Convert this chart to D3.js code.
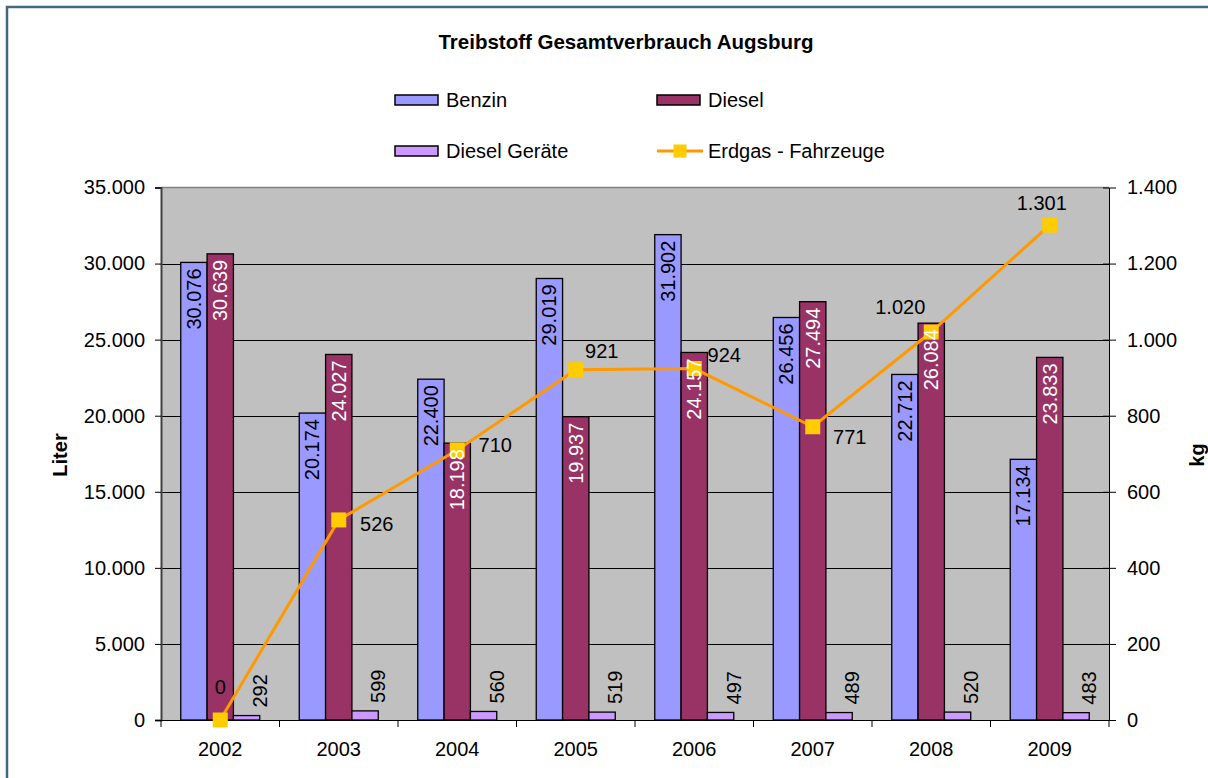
<!DOCTYPE html>
<html>
<head>
<meta charset="utf-8">
<script src="https://cdn.jsdelivr.net/npm/d3@7"></script>
<style>
    html, body { margin: 0; padding: 0; background: #fff; overflow: hidden; }
    svg { display: block; }
    text { font-family: Arial, "Liberation Sans", sans-serif; }
</style>
</head>
<body>
<div id="chart-area"></div>
<script>
// Data
var years = ["2002", "2003", "2004", "2005", "2006", "2007", "2008", "2009"];
var benzin = [30076, 20174, 22400, 29019, 31902, 26456, 22712, 17134];
var diesel = [30639, 24027, 18198, 19937, 24157, 27494, 26084, 23833];
var dieselGeraete = [292, 599, 560, 519, 497, 489, 520, 483];
var erdgas = [0, 526, 710, 921, 924, 771, 1020, 1301];
var leftTicks = [0, 5000, 10000, 15000, 20000, 25000, 30000, 35000];
var rightTicks = [0, 200, 400, 600, 800, 1000, 1200, 1400];

// where the Erdgas labels sit relative to their point
var erdgasLabelOffsets = [[0, -33], [38, 4], [38, -5], [26, -19], [30, -14], [37, 10], [-31, -25], [-8, -22]];

var seriesNames = ["Benzin", "Diesel", "Diesel Geräte"];
var seriesValues = [benzin, diesel, dieselGeraete];
var colors = { "Benzin": "#9999FF", "Diesel": "#993366", "Diesel Geräte": "#CC99FF" };

var width = 1208, height = 778;
var plot = { left: 161, right: 1109, top: 187.5, bottom: 720 };

var de = d3.formatLocale({ decimal: ",", thousands: ".", grouping: [3], currency: ["", "€"] });
var fmt = de.format(",d");

var svg = d3.select("#chart-area")
    .append("svg")
        .attr("width", width)
        .attr("height", height);

// Outer frame (only top and left edges are inside the picture)
svg.append("path")
    .attr("d", "M7," + (height + 5) + "V7H" + (width + 5))
    .attr("fill", "none")
    .attr("stroke", "#41687F")
    .attr("stroke-width", 2.5);

// Scales
var x = d3.scaleBand()
    .domain(years)
    .range([plot.left, plot.right])
    .padding(0);

var xs = d3.scaleBand()
    .domain(seriesNames)
    .range([0, x.bandwidth()])
    .paddingInner(0)
    .paddingOuter(0.75);

var y = d3.scaleLinear()
    .domain([0, 35000])
    .range([plot.bottom, plot.top]);

var y2 = d3.scaleLinear()
    .domain([0, 1400])
    .range([plot.bottom, plot.top]);

// Plot background
svg.append("rect")
    .attr("x", plot.left).attr("y", plot.top)
    .attr("width", plot.right - plot.left)
    .attr("height", plot.bottom - plot.top)
    .attr("fill", "#C0C0C0");

svg.append("line")
    .attr("x1", plot.left).attr("x2", plot.right)
    .attr("y1", plot.top).attr("y2", plot.top)
    .attr("stroke", "#808080").attr("stroke-width", 1.5);

// Gridlines
svg.append("g").selectAll("line")
    .data(leftTicks.filter(function(d){ return d > 0 && d < 35000; }))
    .enter().append("line")
        .attr("x1", plot.left).attr("x2", plot.right)
        .attr("y1", function(d){ return Math.round(y(d)) + 0.5; })
        .attr("y2", function(d){ return Math.round(y(d)) + 0.5; })
        .attr("stroke", "#000").attr("stroke-width", 1);

// Bars
var groups = svg.append("g").selectAll("g")
    .data(years)
    .enter().append("g")
        .attr("transform", function(d){ return "translate(" + x(d) + ",0)"; });

groups.selectAll("rect")
    .data(function(d, i){
        return seriesNames.map(function(s, j){ return { name: s, value: seriesValues[j][i] }; });
    })
    .enter().append("rect")
        .attr("x", function(d){ return xs(d.name); })
        .attr("y", function(d){ return y(d.value); })
        .attr("width", xs.bandwidth())
        .attr("height", function(d){ return y(0) - y(d.value); })
        .attr("fill", function(d){ return colors[d.name]; })
        .attr("stroke", "#000")
        .attr("stroke-width", 1.3);

// Axes
var yAxisCall = d3.axisLeft(y)
    .tickValues(leftTicks)
    .tickSize(6)
    .tickPadding(10)
    .tickFormat(fmt);
var yAxisGroup = svg.append("g")
    .attr("transform", "translate(" + plot.left + ",0)")
    .call(yAxisCall);

var y2AxisCall = d3.axisRight(y2)
    .tickValues(rightTicks)
    .tickSizeInner(7)
    .tickSizeOuter(0)
    .tickPadding(11)
    .tickFormat(fmt);
var y2AxisGroup = svg.append("g")
    .attr("transform", "translate(" + plot.right + ",0)")
    .call(y2AxisCall);

y2AxisGroup.selectAll(".tick line").attr("x1", -6);

var xAxisCall = d3.axisBottom(x)
    .tickSize(0)
    .tickPadding(22);
var xAxisGroup = svg.append("g")
    .attr("transform", "translate(0," + plot.bottom + ")")
    .call(xAxisCall);

// x ticks at category boundaries
xAxisGroup.selectAll(".sep")
    .data(years.concat(["end"]))
    .enter().append("line")
        .attr("class", "sep")
        .attr("x1", function(d, i){ return plot.left + i * x.step(); })
        .attr("x2", function(d, i){ return plot.left + i * x.step(); })
        .attr("y1", 0).attr("y2", 7)
        .attr("stroke", "#000");

[yAxisGroup, y2AxisGroup, xAxisGroup].forEach(function(g){
    g.selectAll("text")
        .attr("font-size", "20px")
        .attr("font-family", "Arial, 'Liberation Sans', sans-serif")
        .attr("fill", "#000");
    g.selectAll(".tick line").attr("stroke", "#000");
});
yAxisGroup.select(".domain").attr("stroke", "#404040").attr("stroke-width", 2);
y2AxisGroup.select(".domain").attr("stroke", "#000");
xAxisGroup.select(".domain").attr("stroke", "#000");

// Erdgas line
var line = d3.line()
    .x(function(d, i){ return x(years[i]) + x.bandwidth() / 2; })
    .y(function(d){ return y2(d); });

svg.append("path")
    .datum(erdgas)
    .attr("d", line)
    .attr("fill", "none")
    .attr("stroke", "#FF9900")
    .attr("stroke-width", 3);

svg.append("g").selectAll("rect")
    .data(erdgas)
    .enter().append("rect")
        .attr("x", function(d, i){ return x(years[i]) + x.bandwidth() / 2 - 7.5; })
        .attr("y", function(d){ return y2(d) - 7.5; })
        .attr("width", 15).attr("height", 15)
        .attr("fill", "#FFCC00");

// Bar labels (drawn over the line)
var labelGroups = svg.append("g").selectAll("g")
    .data(years)
    .enter().append("g")
        .attr("transform", function(d){ return "translate(" + x(d) + ",0)"; });

labelGroups.selectAll("text")
    .data(function(d, i){
        return seriesNames.map(function(s, j){ return { name: s, value: seriesValues[j][i] }; });
    })
    .enter().append("text")
        .attr("transform", function(d){
            var cx = xs(d.name) + xs.bandwidth() / 2;
            if (d.name === "Diesel Geräte") {
                return "translate(" + (cx + 13) + "," + (y(d.value) - 8) + ") rotate(-90)";
            }
            return "translate(" + cx + "," + (y(d.value) + 6) + ") rotate(-90)";
        })
        .attr("text-anchor", function(d){ return d.name === "Diesel Geräte" ? "start" : "end"; })
        .attr("dy", "0.35em")
        .attr("font-size", "20px")
        .attr("fill", function(d){ return d.name === "Diesel" ? "#fff" : "#000"; })
        .text(function(d){ return fmt(d.value); });

// Erdgas labels
svg.append("g").selectAll("text")
    .data(erdgas)
    .enter().append("text")
        .attr("x", function(d, i){ return x(years[i]) + x.bandwidth() / 2 + erdgasLabelOffsets[i][0]; })
        .attr("y", function(d, i){ return y2(d) + erdgasLabelOffsets[i][1]; })
        .attr("dy", "0.35em")
        .attr("text-anchor", "middle")
        .attr("font-size", "20px")
        .text(function(d){ return fmt(d); });

// Title
svg.append("text")
    .attr("x", 626).attr("y", 49)
    .attr("text-anchor", "middle")
    .attr("font-size", "20.5px")
    .attr("font-weight", "bold")
    .text("Treibstoff Gesamtverbrauch Augsburg");

// Axis titles
svg.append("text")
    .attr("transform", "translate(60,455) rotate(-90)")
    .attr("text-anchor", "middle")
    .attr("dy", "0.35em")
    .attr("font-size", "20px")
    .attr("font-weight", "bold")
    .text("Liter");

svg.append("text")
    .attr("transform", "translate(1197,455) rotate(-90)")
    .attr("text-anchor", "middle")
    .attr("dy", "0.35em")
    .attr("font-size", "20px")
    .attr("font-weight", "bold")
    .text("kg");

// Legend
var legendItems = [
    { name: "Benzin", x: 395, y: 100, type: "bar" },
    { name: "Diesel", x: 657, y: 100, type: "bar" },
    { name: "Diesel Geräte", x: 395, y: 151, type: "bar" },
    { name: "Erdgas - Fahrzeuge", x: 657, y: 151, type: "line" }
];

var legend = svg.append("g").selectAll("g")
    .data(legendItems)
    .enter().append("g")
        .attr("transform", function(d){ return "translate(" + d.x + "," + d.y + ")"; });

legend.filter(function(d){ return d.type === "bar"; })
    .append("rect")
        .attr("x", 0).attr("y", -5)
        .attr("width", 43).attr("height", 10)
        .attr("fill", function(d){ return colors[d.name]; })
        .attr("stroke", "#000")
        .attr("stroke-width", 1.5);

var lineItem = legend.filter(function(d){ return d.type === "line"; });
lineItem.append("line")
    .attr("x1", 0).attr("x2", 46)
    .attr("y1", 0).attr("y2", 0)
    .attr("stroke", "#FF9900")
    .attr("stroke-width", 3);
lineItem.append("rect")
    .attr("x", 16.5).attr("y", -6.5)
    .attr("width", 13).attr("height", 13)
    .attr("fill", "#FFCC00");

legend.append("text")
    .attr("x", 51)
    .attr("dy", "0.35em")
    .attr("font-size", "20px")
    .text(function(d){ return d.name; });
</script>
</body>
</html>
